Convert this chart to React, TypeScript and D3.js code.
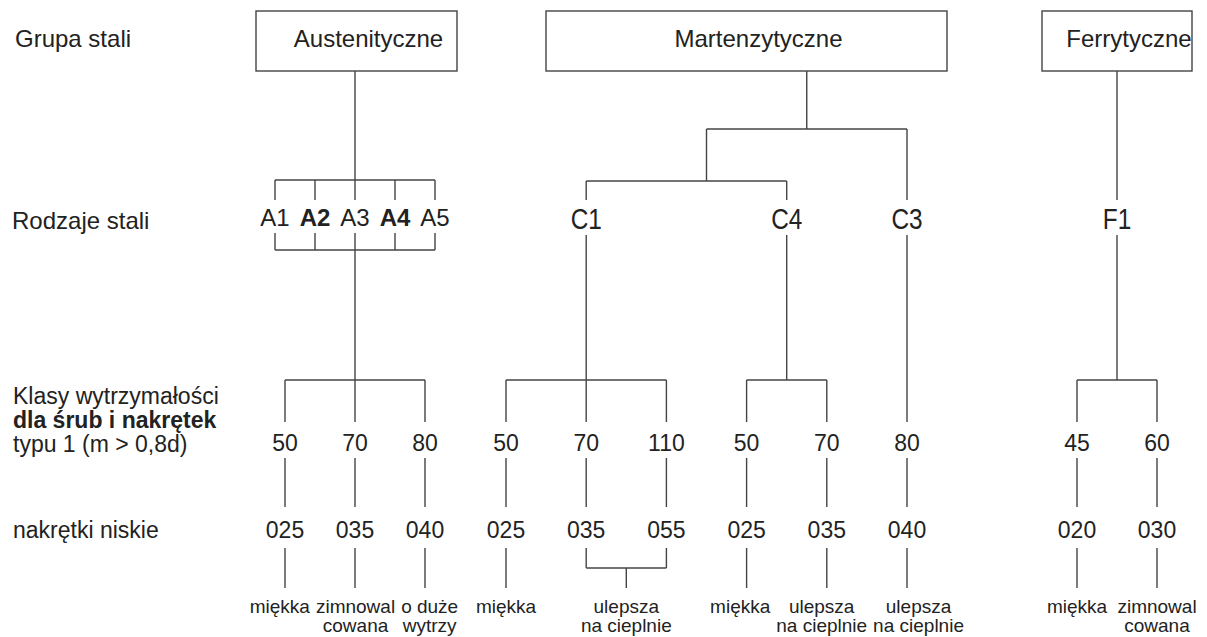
import { useEffect, useRef } from "react";
import * as d3 from "d3";

// --- data ---
const groupNames = ["Austenityczne", "Martenzytyczne", "Ferrytyczne"];
const rowTitles = ["Grupa stali", "Rodzaje stali"];
const classTitle = ["Klasy wytrzymałości", "dla śrub i nakrętek", "typu 1 (m > 0,8d)"];
const nutTitle = "nakrętki niskie";

const austSteels = ["A1", "A2", "A3", "A4", "A5"];
const austBold = ["A2", "A4"];
const martSteels = ["C1", "C4", "C3"];
const martJoined = ["C1", "C4"]; // joined first, then with C3
const ferrSteels = ["F1"];

// one entry per strength class column
const classGroup = [0, 0, 0, 1, 1, 1, 1, 1, 1, 2, 2];
const classSteel = ["A", "A", "A", "C1", "C1", "C1", "C4", "C4", "C3", "F1", "F1"];
const classLabels = ["50", "70", "80", "50", "70", "110", "50", "70", "80", "45", "60"];
const nutLabels = ["025", "035", "040", "025", "035", "055", "025", "035", "040", "020", "030"];

const processText = [
  ["miękka"],
  ["zimnowal", "cowana"],
  ["o duże", "wytrzy"],
  ["miękka"],
  ["ulepsza", "na cieplnie"],
  ["miękka"],
  ["ulepsza", "na cieplnie"],
  ["ulepsza", "na cieplnie"],
  ["miękka"],
  ["zimnowal", "cowana"],
];
const processNuts = [[0], [1], [2], [3], [4, 5], [6], [7], [8], [9], [10]];

// --- layout ---
const W = 1207;
const H = 637;
const groupSpan = [[285, 425], [506, 907], [1077, 1157]];
const boxSpan = [[256, 457], [546, 947], [1042, 1192]];
const font = "'Liberation Sans', Arial, Helvetica, sans-serif";
const ink = "#222";
const lineColor = "#444";

const Chart = () => {
  const ref = useRef(null);

  useEffect(() => {
    document.body.style.margin = "0";
    d3.select(ref.current).selectAll("*").remove();

    const svg = d3
      .select(ref.current)
      .append("svg")
      .attr("width", W)
      .attr("height", H)
      .style("display", "block")
      .style("background", "#fff");

    const line = (x1, y1, x2, y2) =>
      svg
        .append("line")
        .attr("x1", x1)
        .attr("y1", y1)
        .attr("x2", x2)
        .attr("y2", y2)
        .attr("stroke", lineColor)
        .attr("stroke-width", 1.4);

    const text = (parent, str, x, y, size, anchor = "middle", weight = "normal") =>
      parent
        .append("text")
        .attr("x", x)
        .attr("y", y)
        .attr("text-anchor", anchor)
        .attr("font-family", font)
        .attr("font-size", size)
        .attr("font-weight", weight)
        .attr("fill", ink)
        .text(str);

    // column positions, one point scale per steel group
    const colX = new Array(classLabels.length);
    groupNames.forEach((_, g) => {
      const idx = classLabels.map((_, i) => i).filter((i) => classGroup[i] === g);
      const x = d3.scalePoint().domain(idx.map(String)).range(groupSpan[g]);
      idx.forEach((i) => (colX[i] = x(String(i))));
    });

    const steelCols = (s) => classLabels.map((_, i) => i).filter((i) => classSteel[i] === s);
    const steelX = {};
    ["A", ...martSteels, ...ferrSteels].forEach((s) => {
      steelX[s] = d3.mean(steelCols(s), (i) => colX[i]);
    });

    // Martensitic joins
    const c1Last = d3.max(steelCols(martJoined[0]));
    const c4First = d3.min(steelCols(martJoined[1]));
    const joinX = (colX[c1Last] + colX[c4First]) / 2;
    const martStem = (joinX + steelX["C3"]) / 2;

    const stems = [steelX["A"], martStem, steelX["F1"]];

    // left row titles
    text(svg, rowTitles[0], 15, 47, 24, "start");
    text(svg, rowTitles[1], 12, 229, 24, "start");
    classTitle.forEach((t, i) =>
      text(svg, t, 13, 404 + i * 24, 23, "start", i === 1 ? "bold" : "normal")
    );
    text(svg, nutTitle, 13, 538, 23, "start");

    // group boxes
    groupNames.forEach((name, g) => {
      const [x0, x1] = boxSpan[g];
      svg
        .append("rect")
        .attr("x", x0)
        .attr("y", 11)
        .attr("width", x1 - x0)
        .attr("height", 60)
        .attr("fill", "none")
        .attr("stroke", lineColor)
        .attr("stroke-width", 1.4);
      text(svg, name, (x0 + x1) / 2 + 12, 47, 24);
    });

    // Austenitic steels
    const ax = d3
      .scalePoint()
      .domain(austSteels)
      .range([steelX["A"] - 80, steelX["A"] + 80]);
    line(stems[0], 71, stems[0], 180);
    line(ax(austSteels[0]), 180, ax(austSteels[4]), 180);
    line(ax(austSteels[0]), 250, ax(austSteels[4]), 250);
    austSteels.forEach((s) => {
      line(ax(s), 180, ax(s), 200);
      line(ax(s), 233, ax(s), 250);
      text(svg, s, ax(s), 226, 24, "middle", austBold.includes(s) ? "bold" : "normal");
    });
    line(steelX["A"], 250, steelX["A"], 380);

    // Martensitic steels
    line(martStem, 71, martStem, 129);
    line(joinX, 129, steelX["C3"], 129);
    line(joinX, 129, joinX, 181);
    line(steelX["C1"], 181, steelX["C4"], 181);
    line(steelX["C1"], 181, steelX["C1"], 200);
    line(steelX["C4"], 181, steelX["C4"], 200);
    line(steelX["C3"], 129, steelX["C3"], 200);

    // Ferritic
    line(stems[2], 71, stems[2], 200);

    [...martSteels, ...ferrSteels].forEach((s) => {
      const g = svg
        .append("g")
        .attr("transform", `translate(${steelX[s]},229) scale(0.84,1)`);
      text(g, s, 0, 0, 29);
      line(steelX[s], 235, steelX[s], 380);
    });

    // strength class brackets
    ["A", ...martSteels, ...ferrSteels].forEach((s) => {
      const cols = steelCols(s);
      line(colX[cols[0]], 380, colX[cols[cols.length - 1]], 380);
    });

    classLabels.forEach((c, i) => {
      line(colX[i], 380, colX[i], 422);
      text(svg, c, colX[i], 451, 23);
      line(colX[i], 458, colX[i], 507);
      text(svg, nutLabels[i], colX[i], 538, 23);
    });

    // process labels: connectors, then text blocks nudged apart where they collide
    const blocks = processNuts.map((nuts, p) => {
      const xs = nuts.map((i) => colX[i]);
      const mx = d3.mean(xs);
      if (nuts.length > 1) {
        xs.forEach((x) => line(x, 548, x, 568));
        line(d3.min(xs), 568, d3.max(xs), 568);
        line(mx, 568, mx, 588);
      } else {
        line(mx, 548, mx, 588);
      }
      const g = svg.append("g");
      const widths = processText[p].map(
        (t, k) => text(g, t, 0, 613 + k * 19, 19).node().getComputedTextLength()
      );
      return { g, x: mx, w: d3.max(widths) };
    });

    const gap = 6;
    for (let iter = 0; iter < 20; iter++) {
      for (let j = 1; j < blocks.length; j++) {
        const a = blocks[j - 1];
        const b = blocks[j];
        const over = a.x + a.w / 2 + gap - (b.x - b.w / 2);
        if (over > 0) {
          a.x -= over / 2;
          b.x += over / 2;
        }
      }
    }
    blocks.forEach((b) => b.g.attr("transform", `translate(${b.x},0)`));
  }, []);

  return <div ref={ref}></div>;
};

export default function App() {
  return <Chart />;
}
